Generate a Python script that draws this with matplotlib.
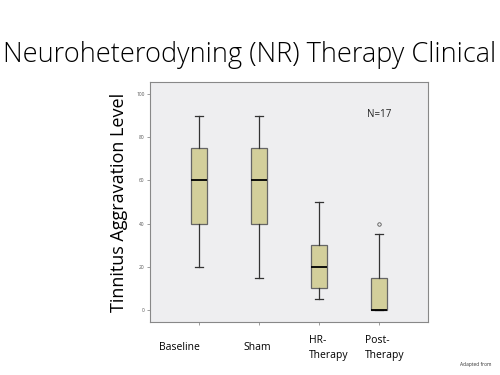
import matplotlib
matplotlib.use("Agg")
import matplotlib.pyplot as plt
import matplotlib.transforms as mtransforms

# box statistics
groups = ["Baseline", "Sham", "HR-\nTherapy", "Post-\nTherapy"]
whislo = [20, 15, 5, 0]
q1 = [40, 40, 10, 0]
med = [60, 60, 20, 0]
q3 = [75, 75, 30, 15]
whishi = [90, 90, 50, 35]
fliers = [[], [], [], [40]]
yticks = [0, 20, 40, 60, 80, 100]

stats = []
for i in range(len(groups)):
    stats.append(dict(label=groups[i], whislo=whislo[i], q1=q1[i], med=med[i],
                      q3=q3[i], whishi=whishi[i], fliers=fliers[i]))

plt.rcParams['font.family'] = ['Open Sans', 'DejaVu Sans']

fig = plt.figure(figsize=(5, 3.75), dpi=100)
ax = fig.add_axes([0.3, 0.1413, 0.556, 0.64])
ax.set_facecolor('#eeeef0')

pos = [1, 2, 3, 4]
ax.bxp(stats, positions=pos, widths=0.27, patch_artist=True, showfliers=True,
       boxprops=dict(facecolor='#d3cf9b', edgecolor='#666666', linewidth=0.9),
       medianprops=dict(color='black', linewidth=1.3),
       whiskerprops=dict(color='#333333', linewidth=0.9),
       capprops=dict(color='#333333', linewidth=0.9),
       capwidths=0.13,
       flierprops=dict(marker='o', markersize=2.5, markerfacecolor='none',
                       markeredgecolor='#555555', markeredgewidth=0.6))

ax.set_xlim(0.185, 4.815)
ax.set_ylim(-5.5, 105.5)
ax.set_yticks(yticks)
ax.set_yticklabels([str(t) for t in yticks], fontsize=3.5, color='#555555')
ax.set_xticks(pos)
ax.set_xticklabels([])
ax.tick_params(axis='both', length=2, width=0.5, color='#777777', pad=2)
for s in ax.spines.values():
    s.set_color('#888888')
    s.set_linewidth(0.8)

# slide labels sit left-aligned under the boxes
label_x = [0.33, 1.75, 2.83, 3.77]
trans = mtransforms.blended_transform_factory(ax.transData, ax.transAxes)
for x, g in zip(label_x, groups):
    ax.text(x, -0.108, g, transform=trans, ha='left', va='center',
            fontsize=7.5, color='black', linespacing=1.4)

ax.text(4, 90.7, "N=17", ha='center', va='center', fontsize=7, color='#222222')

ax.set_ylabel("Tinnitus Aggravation Level", fontsize=13, labelpad=6)

fig.text(0.5, 0.853, "Neuroheterodyning (NR) Therapy Clinical", ha='center',
         va='center', fontsize=19.5, fontweight='light', color='black')
fig.text(0.92, 0.027, "Adapted from", ha='left', va='center', fontsize=3.5,
         color='#333333')

fig.savefig("out.png", dpi=100)
